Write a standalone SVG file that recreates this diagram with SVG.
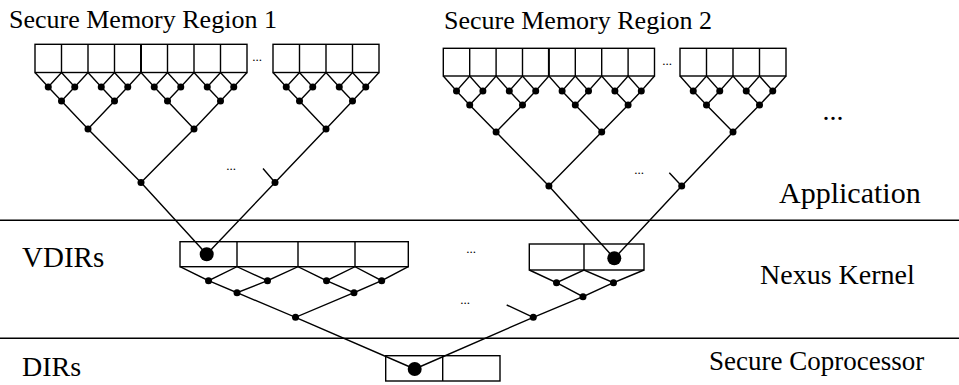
<svg xmlns="http://www.w3.org/2000/svg" width="959" height="385" viewBox="0 0 959 385">
<style>
.ln{fill:none;stroke:#000;stroke-width:1.4;stroke-linejoin:miter}
.box{fill:none;stroke:#000;stroke-width:1.4}
.d{fill:#000}
.t{font-family:"Liberation Serif","Times New Roman",serif;font-size:28px;fill:#000}
.s{font-family:"Liberation Serif","Times New Roman",serif;font-size:13px;fill:#000;text-anchor:middle}
</style>
<rect width="959" height="385" fill="#fff"/>
<g id="layers">
<line class="ln" x1="0" y1="220.3" x2="959" y2="220.3"/>
<line class="ln" x1="0" y1="338.3" x2="959" y2="338.3"/>
</g>
<g id="labels">
<text class="t" x="9" y="28" style="font-size:26px">Secure Memory Region 1</text>
<text class="t" x="444" y="29" style="font-size:26px">Secure Memory Region 2</text>
<text class="t" x="833" y="120" text-anchor="middle">...</text>
<text class="t" x="779" y="203" style="font-size:30px">Application</text>
<text class="t" x="22" y="267" style="font-size:29px">VDIRs</text>
<text class="t" x="760" y="284">Nexus Kernel</text>
<text class="t" x="22" y="376">DIRs</text>
<text class="t" x="709" y="370" style="font-size:27px">Secure Coprocessor</text>
<text class="s" x="257" y="61">...</text>
<text class="s" x="231" y="170">...</text>
<text class="s" x="667" y="65">...</text>
<text class="s" x="639" y="174">...</text>
<text class="s" x="471" y="253">...</text>
<text class="s" x="465" y="304">...</text>
</g>
<g id="connectors">
<path class="ln" d="M141,182.5 L206.7,254.3 M275,182.5 L206.7,254.3 M263,168.5 L275,182.5"/>
<path class="ln" d="M548.9,186 L614.3,258.3 M681.7,186 L614.3,258.3 M669.3,172.7 L681.7,186"/>
<path class="ln" d="M295.5,317.3 L414.7,369 M583,296.7 L533.3,317.3 L414.7,369 M506.7,305 L533.3,317.3"/>
</g>
<g id="region1-block1">
<rect class="box" x="35" y="44.3" width="212" height="28.2"/>
<path class="ln" d="M61.5,44.3V72.5M88,44.3V72.5M114.5,44.3V72.5M167.5,44.3V72.5M194,44.3V72.5M220.5,44.3V72.5"/>
<path class="ln" style="stroke-width:2" d="M141,44.3V72.5"/>
<path class="ln" d="M35,72.5 L48.25,87 L61.5,72.5 L74.75,87 L88,72.5 L101.25,87 L114.5,72.5 L127.75,87 L141,72.5 L154.25,87 L167.5,72.5 L180.75,87 L194,72.5 L207.25,87 L220.5,72.5 L233.75,87 L247,72.5 M48.25,87 L61.5,101 L74.75,87 M101.25,87 L114.5,101 L127.75,87 M154.25,87 L167.5,101 L180.75,87 M207.25,87 L220.5,101 L233.75,87 M61.5,101 L88,129 L114.5,101 M167.5,101 L194,129 L220.5,101 M88,129 L141,182.5 L194,129"/>
<g class="d">
<circle cx="48.25" cy="87" r="3.5"/><circle cx="74.75" cy="87" r="3.5"/><circle cx="101.25" cy="87" r="3.5"/><circle cx="127.75" cy="87" r="3.5"/><circle cx="154.25" cy="87" r="3.5"/><circle cx="180.75" cy="87" r="3.5"/><circle cx="207.25" cy="87" r="3.5"/><circle cx="233.75" cy="87" r="3.5"/>
<circle cx="61.5" cy="101" r="3.5"/><circle cx="114.5" cy="101" r="3.5"/><circle cx="167.5" cy="101" r="3.5"/><circle cx="220.5" cy="101" r="3.5"/>
<circle cx="88" cy="129" r="3.5"/><circle cx="194" cy="129" r="3.5"/><circle cx="141" cy="182.5" r="3.5"/>
</g>
</g>
<g id="region1-block2">
<rect class="box" x="273" y="44.3" width="106" height="28.2"/>
<path class="ln" d="M299.5,44.3V72.5M326,44.3V72.5M352.5,44.3V72.5"/>
<path class="ln" d="M273,72.5 L286.25,87 L299.5,72.5 L312.75,87 L326,72.5 L339.25,87 L352.5,72.5 L365.75,87 L379,72.5 M286.25,87 L299.5,101 L312.75,87 M339.25,87 L352.5,101 L365.75,87 M299.5,101 L326,129 L352.5,101 M326,129 L275,182.5"/>
<g class="d">
<circle cx="286.25" cy="87" r="3.5"/><circle cx="312.75" cy="87" r="3.5"/><circle cx="339.25" cy="87" r="3.5"/><circle cx="365.75" cy="87" r="3.5"/>
<circle cx="299.5" cy="101" r="3.5"/><circle cx="352.5" cy="101" r="3.5"/><circle cx="326" cy="129" r="3.5"/><circle cx="275" cy="182.5" r="3.5"/>
</g>
</g>
<g id="region2-block1">
<rect class="box" x="443.3" y="48.3" width="211.2" height="27.7"/>
<path class="ln" d="M469.7,48.3V76M496.1,48.3V76M522.5,48.3V76M575.3,48.3V76M601.7,48.3V76M628.1,48.3V76"/>
<path class="ln" style="stroke-width:2" d="M548.9,48.3V76"/>
<path class="ln" d="M443.3,76 L456.5,91 L469.7,76 L482.9,91 L496.1,76 L509.3,91 L522.5,76 L535.7,91 L548.9,76 L562.1,91 L575.3,76 L588.5,91 L601.7,76 L614.9,91 L628.1,76 L641.3,91 L654.5,76 M456.5,91 L469.7,105 L482.9,91 M509.3,91 L522.5,105 L535.7,91 M562.1,91 L575.3,105 L588.5,91 M614.9,91 L628.1,105 L641.3,91 M469.7,105 L496.1,132 L522.5,105 M575.3,105 L601.7,132 L628.1,105 M496.1,132 L548.9,186 L601.7,132"/>
<g class="d">
<circle cx="456.5" cy="91" r="3.5"/><circle cx="482.9" cy="91" r="3.5"/><circle cx="509.3" cy="91" r="3.5"/><circle cx="535.7" cy="91" r="3.5"/><circle cx="562.1" cy="91" r="3.5"/><circle cx="588.5" cy="91" r="3.5"/><circle cx="614.9" cy="91" r="3.5"/><circle cx="641.3" cy="91" r="3.5"/>
<circle cx="469.7" cy="105" r="3.5"/><circle cx="522.5" cy="105" r="3.5"/><circle cx="575.3" cy="105" r="3.5"/><circle cx="628.1" cy="105" r="3.5"/>
<circle cx="496.1" cy="132" r="3.5"/><circle cx="601.7" cy="132" r="3.5"/><circle cx="548.9" cy="186" r="3.5"/>
</g>
</g>
<g id="region2-block2">
<rect class="box" x="680" y="48.3" width="106" height="27.7"/>
<path class="ln" d="M706.5,48.3V76M733,48.3V76M759.5,48.3V76"/>
<path class="ln" d="M680,76 L693.25,91 L706.5,76 L719.75,91 L733,76 L746.25,91 L759.5,76 L772.75,91 L786,76 M693.25,91 L706.5,105 L719.75,91 M746.25,91 L759.5,105 L772.75,91 M706.5,105 L733,132 L759.5,105 M733,132 L681.7,186"/>
<g class="d">
<circle cx="693.25" cy="91" r="3.5"/><circle cx="719.75" cy="91" r="3.5"/><circle cx="746.25" cy="91" r="3.5"/><circle cx="772.75" cy="91" r="3.5"/>
<circle cx="706.5" cy="105" r="3.5"/><circle cx="759.5" cy="105" r="3.5"/><circle cx="733" cy="132" r="3.5"/><circle cx="681.7" cy="186" r="3.5"/>
</g>
</g>
<g id="vdir-left">
<rect class="box" x="180" y="241.7" width="228.3" height="25"/>
<path class="ln" d="M237,241.7V266.7M298,241.7V266.7M355,241.7V266.7"/>
<path class="ln" d="M180,266.7 L208.5,280.7 L237,266.7 L267.5,280.7 L298,266.7 L326.5,280.7 L355,266.7 L381.7,280.7 L408.3,266.7 M208.5,280.7 L237,292.7 L267.5,280.7 M326.5,280.7 L354,292.7 L381.7,280.7 M237,292.7 L295.5,317.3 L354,292.7"/>
<g class="d">
<circle cx="208.5" cy="280.7" r="3.5"/><circle cx="267.5" cy="280.7" r="3.5"/><circle cx="326.5" cy="280.7" r="3.5"/><circle cx="381.7" cy="280.7" r="3.5"/>
<circle cx="237" cy="292.7" r="3.5"/><circle cx="354" cy="292.7" r="3.5"/><circle cx="295.5" cy="317.3" r="3.5"/>
<circle cx="206.7" cy="254.3" r="7"/>
</g>
</g>
<g id="vdir-right">
<rect class="box" x="529.3" y="244" width="114.7" height="26"/>
<path class="ln" d="M584,244V270"/>
<path class="ln" d="M529.3,270 L556.5,282.7 L584,270 L613.5,282.7 L644,270 M556.5,282.7 L583,296.7 L613.5,282.7"/>
<g class="d">
<circle cx="556.5" cy="282.7" r="3.5"/><circle cx="613.5" cy="282.7" r="3.5"/><circle cx="583" cy="296.7" r="3.5"/><circle cx="533.3" cy="317.3" r="3.5"/>
<circle cx="614.3" cy="258.3" r="7"/>
</g>
</g>
<g id="dir">
<rect class="box" x="385.7" y="355.7" width="114.3" height="25.3"/>
<path class="ln" d="M442.7,355.7V381"/>
<circle class="d" cx="414.7" cy="369" r="7"/>
</g>
</svg>
